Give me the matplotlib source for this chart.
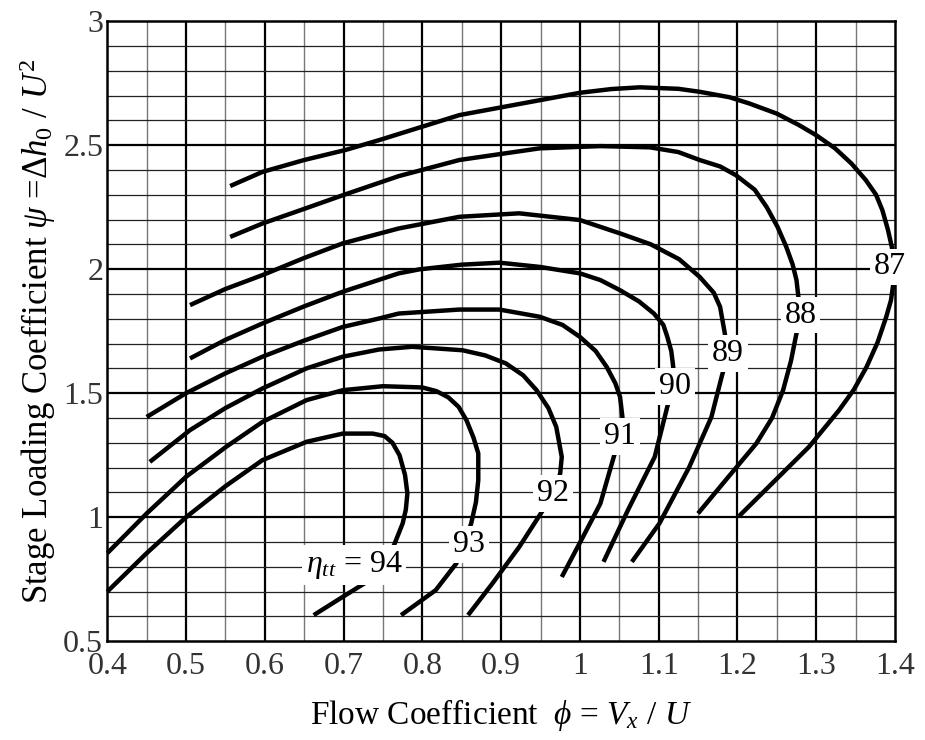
import numpy as np
import matplotlib
matplotlib.use("Agg")
import matplotlib.pyplot as plt

plt.rcParams['font.family'] = ['Liberation Serif', 'DejaVu Serif']
plt.rcParams['mathtext.fontset'] = 'custom'
plt.rcParams['mathtext.rm'] = 'Liberation Serif'
plt.rcParams['mathtext.it'] = 'Liberation Serif:italic'

# efficiency contours (phi, psi)
eff_94_phi = [0.40, 0.45, 0.50, 0.55, 0.597, 0.653, 0.699, 0.737, 0.752, 0.762, 0.771, 0.778, 0.781, 0.779, 0.775, 0.764, 0.750, 0.733, 0.699, 0.662]
eff_94_psi = [0.70, 0.855, 1.00, 1.125, 1.230, 1.304, 1.337, 1.337, 1.327, 1.300, 1.250, 1.170, 1.096, 1.030, 0.975, 0.887, 0.810, 0.746, 0.679, 0.605]

eff_93_phi = [0.40, 0.450, 0.50, 0.551, 0.597, 0.653, 0.699, 0.750, 0.800, 0.818, 0.833, 0.846, 0.856, 0.865, 0.871, 0.871, 0.868, 0.862, 0.853, 0.843, 0.817, 0.773]
eff_93_psi = [0.855, 1.015, 1.163, 1.284, 1.384, 1.472, 1.512, 1.528, 1.523, 1.508, 1.483, 1.445, 1.391, 1.320, 1.257, 1.149, 1.060, 0.975, 0.890, 0.813, 0.706, 0.605]

eff_92_phi = [0.454, 0.505, 0.55, 0.597, 0.653, 0.699, 0.745, 0.787, 0.851, 0.880, 0.906, 0.928, 0.945, 0.960, 0.970, 0.977, 0.975, 0.966, 0.953, 0.923, 0.889, 0.858]
eff_92_psi = [1.223, 1.351, 1.440, 1.519, 1.600, 1.647, 1.676, 1.687, 1.673, 1.652, 1.620, 1.572, 1.512, 1.440, 1.364, 1.243, 1.176, 1.096, 1.028, 0.880, 0.733, 0.605]

eff_91_phi = [0.45, 0.50, 0.55, 0.597, 0.650, 0.699, 0.745, 0.770, 0.847, 0.898, 0.949, 0.978, 1.000, 1.020, 1.034, 1.045, 1.051, 1.054, 1.051, 1.043, 1.026, 1.004, 0.977]
eff_91_psi = [1.404, 1.50, 1.580, 1.647, 1.712, 1.767, 1.801, 1.821, 1.837, 1.837, 1.808, 1.775, 1.727, 1.670, 1.606, 1.540, 1.485, 1.404, 1.324, 1.243, 1.055, 0.921, 0.759]

eff_90_phi = [0.505, 0.55, 0.597, 0.650, 0.699, 0.770, 0.796, 0.850, 0.898, 0.949, 1.000, 1.026, 1.051, 1.075, 1.094, 1.106, 1.111, 1.116, 1.118, 1.121, 1.112, 1.095, 1.062, 1.030]
eff_90_psi = [1.640, 1.715, 1.781, 1.850, 1.909, 1.983, 1.999, 2.018, 2.026, 2.009, 1.983, 1.956, 1.915, 1.870, 1.821, 1.775, 1.727, 1.670, 1.620, 1.526, 1.458, 1.243, 1.035, 0.820]

eff_89_phi = [0.505, 0.55, 0.597, 0.650, 0.699, 0.770, 0.847, 0.923, 1.000, 1.051, 1.090, 1.126, 1.152, 1.170, 1.178, 1.184, 1.188, 1.180, 1.167, 1.139, 1.101, 1.066]
eff_89_psi = [1.855, 1.920, 1.976, 2.045, 2.104, 2.164, 2.211, 2.225, 2.198, 2.144, 2.100, 2.040, 1.969, 1.905, 1.848, 1.741, 1.660, 1.566, 1.404, 1.203, 0.975, 0.820]

eff_88_phi = [0.556, 0.597, 0.650, 0.699, 0.770, 0.847, 0.949, 1.026, 1.089, 1.125, 1.152, 1.178, 1.198, 1.222, 1.237, 1.251, 1.262, 1.270, 1.275, 1.280, 1.275, 1.268, 1.258, 1.244, 1.224, 1.185, 1.150]
eff_88_psi = [2.130, 2.184, 2.243, 2.298, 2.375, 2.440, 2.487, 2.496, 2.491, 2.472, 2.440, 2.414, 2.379, 2.320, 2.251, 2.170, 2.090, 2.020, 1.956, 1.815, 1.741, 1.630, 1.512, 1.400, 1.297, 1.149, 1.015]

eff_87_phi = [0.556, 0.597, 0.650, 0.702, 0.745, 0.847, 0.949, 1.000, 1.040, 1.076, 1.125, 1.152, 1.190, 1.215, 1.250, 1.278, 1.300, 1.324, 1.345, 1.363, 1.376, 1.384, 1.391, 1.396, 1.398, 1.394, 1.398, 1.395, 1.389, 1.378, 1.364, 1.348, 1.329, 1.291, 1.244, 1.202]
eff_87_psi = [2.335, 2.392, 2.440, 2.480, 2.520, 2.621, 2.681, 2.711, 2.726, 2.733, 2.727, 2.715, 2.693, 2.668, 2.627, 2.581, 2.540, 2.487, 2.425, 2.359, 2.300, 2.238, 2.160, 2.090, 2.040, 2.009, 1.942, 1.875, 1.808, 1.705, 1.606, 1.515, 1.431, 1.284, 1.136, 1.004]

contour_phi = [eff_94_phi, eff_93_phi, eff_92_phi, eff_91_phi, eff_90_phi, eff_89_phi, eff_88_phi, eff_87_phi]
contour_psi = [eff_94_psi, eff_93_psi, eff_92_psi, eff_91_psi, eff_90_psi, eff_89_psi, eff_88_psi, eff_87_psi]

label_text = [r'$\eta_{tt}$ = 94', '93', '92', '91', '90', '89', '88', '87']
label_phi = [0.713, 0.859, 0.966, 1.051, 1.121, 1.188, 1.280, 1.394]
label_psi = [0.806, 0.891, 1.096, 1.324, 1.526, 1.660, 1.815, 2.009]

x_ticks = [0.4, 0.5, 0.6, 0.7, 0.8, 0.9, 1.0, 1.1, 1.2, 1.3, 1.4]
x_tick_labels = ['0.4', '0.5', '0.6', '0.7', '0.8', '0.9', '1', '1.1', '1.2', '1.3', '1.4']
y_ticks = [0.5, 1.0, 1.5, 2.0, 2.5, 3.0]
y_tick_labels = ['0.5', '1', '1.5', '2', '2.5', '3']

fig = plt.figure(figsize=(9.25, 7.4), dpi=100)
ax = fig.add_axes([0.116, 0.1335, 0.8515, 0.838])
ax.set_xlim(0.4, 1.4)
ax.set_ylim(0.5, 3.0)

# grid: vertical every 0.05 (grey) / 0.1 (black), horizontal every 0.1 / 0.5
for v in np.arange(0.45, 1.4, 0.1):
    ax.axvline(v, color='#777777', lw=1.0, zorder=1)
for v in x_ticks[1:-1]:
    ax.axvline(v, color='black', lw=1.6, zorder=1)
for h in np.arange(0.6, 3.0, 0.1):
    if abs(h * 2 - round(h * 2)) > 1e-6:
        ax.axhline(h, color='#222222', lw=0.9, zorder=1)
for h in y_ticks[1:-1]:
    ax.axhline(h, color='black', lw=1.6, zorder=1)

for phi, psi in zip(contour_phi, contour_psi):
    ax.plot(phi, psi, color='black', lw=3.2, solid_capstyle='butt',
            solid_joinstyle='round', zorder=3, clip_on=False)

for t, px, py in zip(label_text, label_phi, label_psi):
    ax.text(px, py, t, fontsize=23, ha='center', va='center', zorder=6, clip_on=False,
            bbox=dict(boxstyle='square,pad=0.12', fc='white', ec='none'))

for s in ax.spines.values():
    s.set_linewidth(1.8)
    s.set_zorder(4)

ax.set_xticks(x_ticks)
ax.set_xticklabels(x_tick_labels)
ax.set_yticks(y_ticks)
ax.set_yticklabels(y_tick_labels)
ax.tick_params(length=0, pad=3, labelsize=23, labelcolor='#333333')
ax.tick_params(axis='x', pad=8)

ax.set_xlabel(r'Flow Coefficient  $\phi$ = $V_x$ / $U$', fontsize=24, labelpad=11)
ax.set_ylabel(r'Stage Loading Coefficient $\psi$ =$\mathit{\Delta h_0}$ / $U^2$', fontsize=25, labelpad=4)

fig.savefig('out.png', dpi=100)
